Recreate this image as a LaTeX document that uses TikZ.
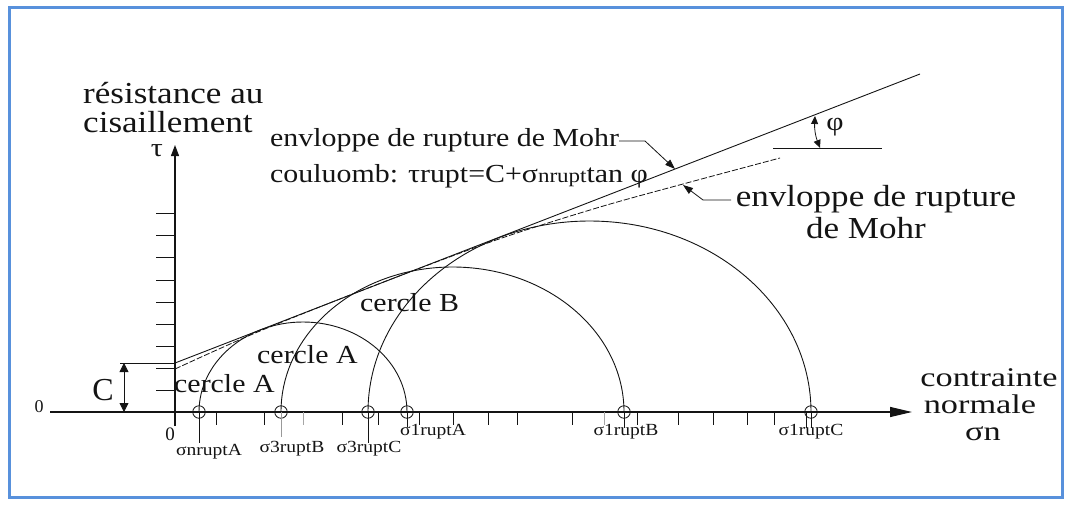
\documentclass[tikz,border=0pt]{standalone}
\usepackage{fontspec}
\setmainfont{Liberation Serif}
\usetikzlibrary{arrows.meta}
\definecolor{frameblue}{RGB}{88,145,220}
\definecolor{ink}{RGB}{20,20,20}
\newcommand{\sx}[1]{\scalebox{1.15}[1]{#1}}
\newcommand{\sxx}[1]{\scalebox{1.27}[1]{#1}}
\newcommand{\fs}[1]{\fontsize{#1}{#1}\selectfont}
\begin{document}
\begin{tikzpicture}[x=1pt,y=-1pt,
  lbl/.style={inner sep=0pt, anchor=base west, text=ink},
  clbl/.style={inner sep=0pt, anchor=center, text=ink},
  axis/.style={draw=ink, line width=1.3pt},
  thin/.style={draw=ink, line width=0.8pt},
  tickln/.style={draw=ink, line width=1pt},
  mohr/.style={draw=ink, line width=0.9pt},
  envdash/.style={draw=ink, line width=0.8pt, dash pattern=on 6pt off 2pt},
  pt/.style={circle, draw=ink, line width=0.8pt, minimum size=12.5pt, inner sep=0pt},
  leadtip/.style={-{Triangle[length=10pt,width=7pt]}},
  dbl/.style={{Triangle[length=9pt,width=9pt]}-{Triangle[length=9pt,width=9pt]}}
]
\useasboundingbox (0,0) rectangle (1068,504);
\draw[line width=3pt, frameblue] (9.5,7.5) rectangle (1062,497.5);

% axes
\coordinate (O) at (175,412);
\coordinate (Xs) at (50,412);
\coordinate (Xe) at (912,412);
\coordinate (Yb) at (175,426);
\coordinate (Ye) at (175,145);
\draw[axis, -{Triangle[length=22pt,width=10pt]}] (Xs) -- (Xe);
\draw[axis, -{Triangle[length=11pt,width=8pt]}] (Yb) -- (Ye);

% vertical ticks
\foreach \yy in {213,235,257,280,302,324,346,368,390}
  \draw[tickln] (156,\yy) -- (175,\yy);
% horizontal ticks
\foreach \xx in {216,264,342,378,419,453,488,517,572,637,678,713,747,774}
  \draw[tickln] (\xx,412) -- (\xx,425);
\foreach \xx in {303,604}
  \draw[draw=gray!70, line width=1pt] (\xx,412) -- (\xx,425);

% Mohr circles
\draw[mohr] (199,412) arc[start angle=180, end angle=0, x radius=104pt, y radius=90pt];
\draw[mohr] (281,412) arc[start angle=180, end angle=0, x radius=171.5pt, y radius=145pt];
\draw[mohr] (368,412) arc[start angle=180, end angle=0, x radius=221.5pt, y radius=191pt];

% envelopes
\coordinate (E0) at (175,363);
\coordinate (E1) at (920,74);
\draw[draw=ink, line width=0.9pt] (E0) -- (E1);
\draw[envdash] plot[smooth] coordinates {(175,369) (260,331) (381,283) (499,239) (600,207) (683,184) (780,158)};

% C
\coordinate (Ct) at (124,363);
\coordinate (Cb) at (124,412);
\coordinate (Cl) at (120,363);
\draw[thin] (Cl) -- (E0);
\draw[thin, dbl] (Ct) -- (Cb);
\node[clbl] (Clab) at (103,390) {\fs{32}C};

% points on axis
\node[pt] (sA) at (199,412) {};
\node[pt] (s3B) at (281,412) {};
\node[pt] (s3C) at (368,412) {};
\node[pt] (s1A) at (407,412) {};
\node[pt] (s1B) at (624,412) {};
\node[pt] (s1C) at (811,412) {};

\node[clbl] (lnA) at (209,452) {\fs{17}\sx{σnruptA}};
\node[clbl] (l3B) at (292,449) {\fs{17}\sx{σ3ruptB}};
\node[clbl] (l3C) at (369,449) {\fs{17}\sx{σ3ruptC}};
\node[clbl] (l1A) at (433,432) {\fs{17}\sx{σ1ruptA}};
\node[clbl] (l1B) at (626,432) {\fs{17}\sx{σ1ruptB}};
\node[clbl] (l1C) at (811,432) {\fs{17}\sx{σ1ruptC}};

\draw[thin] (sA.center) -- ++(0,31);
\draw[draw=gray!80, line width=0.8pt] (s3B.center) -- ++(0,25);
\draw[thin] (s3C.center) -- ++(0,31);
\draw[thin] (s1A.center) -- ++(0,15);
\draw[thin] (s1B.center) -- ++(0,16);
\draw[thin] (s1C.center) ++(-5,0) -- ++(0,16);
\draw[thin] (s1C.center) -- ++(0,16);

% zeros
\node[clbl] (z1) at (39,407) {\fs{18}0};
\node[clbl] (z2) at (170,434) {\fs{19}0};

% axis labels
\node[lbl] (res1) at (83,103) {\fs{30.5}\sx{résistance au}};
\node[lbl] (res2) at (83,132) {\fs{30.5}\sx{cisaillement}};
\node[clbl] (tau) at (157,151) {\fs{26}\sx{τ}};
\node[lbl, anchor=base] (cn1) at (989,386) {\fs{27}\sxx{contrainte}};
\node[lbl, anchor=base] (cn2) at (980,413) {\fs{27}\sxx{normale}};
\node[lbl, anchor=base] (cn3) at (983,440) {\fs{27}\sxx{σn}};

% circle labels
\node[lbl] (cA1) at (174,392) {\fs{26}\sx{cercle A}};
\node[lbl] (cA2) at (257,363) {\fs{26}\sx{cercle A}};
\node[lbl] (cB) at (360,311) {\fs{26}\sx{cercle B}};

% upper envelope label
\node[lbl] (mc1) at (270,146) {\fs{26}\sx{envloppe de rupture de Mohr}};
\node[lbl] (mc2) at (270,182) {\fs{26}\sx{couluomb: τrupt=C+σ{\fs{20}nrupt}tan φ}};
\coordinate (L1a) at (619,141);
\coordinate (L1b) at (645,141);
\coordinate (L1c) at (675,169);
\draw[thin, leadtip] (L1a) -- (L1b) -- (L1c);

% lower envelope label
\node[lbl, anchor=base] (mo1) at (876,206) {\fs{30.5}\sx{envloppe de rupture}};
\node[lbl, anchor=base] (mo2) at (866,238) {\fs{30.5}\sx{de Mohr}};
\coordinate (L2a) at (731,200);
\coordinate (L2b) at (703,200);
\coordinate (L2c) at (683,185);
\draw[thin, leadtip] (L2a) -- (L2b) -- (L2c);

% phi
\coordinate (P0) at (773,148);
\coordinate (P1) at (882,148);
\draw[draw=ink, line width=1pt] (P0) -- (P1);
\coordinate (Pt) at (815,116);
\coordinate (Pb) at (820,148);
\draw[thin, {Triangle[length=8pt,width=7pt]}-{Triangle[length=8pt,width=7pt]}] (Pt) to[bend right=12] (Pb);
\node[clbl] (phi) at (835,127) {\fs{26}\sx{φ}};
\end{tikzpicture}
\end{document}
